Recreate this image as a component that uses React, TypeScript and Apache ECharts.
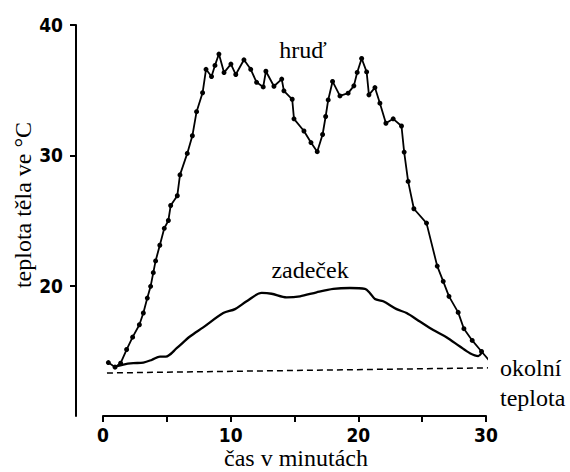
import React, { useEffect, useRef } from "react";
import * as echarts from "echarts";

const xTickValues = [0, 5, 10, 15, 20, 25, 30];
const xLabelValues = [0, 10, 20, 30];
const yTickValues = [20, 30, 40];

const hrudData: [number, number][] = [
  [0.42, 14.1], [0.94, 13.75], [1.38, 14.05], [1.85, 15.1], [2.32, 16.05], [2.85, 17.0],
  [3.16, 17.9], [3.47, 19.05], [3.73, 19.95], [3.94, 21.0], [4.12, 21.9], [4.45, 23.1],
  [4.8, 24.4], [5.12, 25.0], [5.3, 26.15], [5.82, 26.9], [6.03, 28.5], [6.6, 30.15],
  [7.0, 31.5], [7.33, 33.35], [7.8, 34.8], [8.07, 36.6], [8.5, 36.05], [8.77, 36.9],
  [9.08, 37.77], [9.48, 36.35], [10.02, 37.0], [10.4, 36.2], [11.04, 37.33], [11.57, 36.6],
  [12.03, 35.6], [12.55, 35.25], [12.76, 36.45], [13.39, 35.3], [14.0, 35.85], [14.17, 34.95],
  [14.82, 34.3], [14.96, 32.8], [15.74, 31.87], [16.29, 30.98], [16.78, 30.28], [17.2, 31.6],
  [17.44, 32.98], [17.64, 34.25], [17.98, 35.67], [18.56, 34.56], [19.2, 34.77], [19.65, 35.33],
  [19.91, 36.36], [20.26, 37.43], [20.65, 36.4], [20.83, 34.64], [21.3, 35.2], [21.69, 34.0],
  [22.16, 32.46], [22.73, 32.8], [23.38, 32.25], [23.59, 30.25], [23.9, 28.0], [24.35, 25.9],
  [25.34, 24.8], [26.18, 21.5], [26.65, 20.33], [27.1, 19.18], [27.82, 17.95], [28.27, 16.7],
  [28.92, 15.8], [29.65, 14.95],
];
const hrudEnd: [number, number] = [30.25, 14.25];

const zadecekData: [number, number][] = [
  [1.0, 13.8], [1.6, 13.95], [2.37, 14.05], [3.16, 14.1], [3.81, 14.3], [4.46, 14.56],
  [4.93, 14.56], [5.77, 15.2], [6.81, 16.1], [7.85, 16.8], [9.42, 17.9], [10.34, 18.2],
  [11.25, 18.8], [12.43, 19.44], [13.2, 19.38], [14.38, 19.1], [15.43, 19.18], [16.73, 19.49],
  [18.04, 19.75], [19.34, 19.82], [20.52, 19.75], [20.9, 19.44], [21.3, 18.98], [21.95, 18.8],
  [23.0, 18.2], [23.78, 17.9], [24.82, 17.25], [25.87, 16.6], [26.9, 16.05], [27.96, 15.33],
  [28.74, 14.82], [29.39, 14.6], [29.65, 14.82],
];

const ambientData: [number, number][] = [[0.31, 13.3], [30.7, 13.7]];

const SERIF = "Liberation Serif";
const TICKFONT = "DejaVu Sans Condensed";

export default function App() {
  const ref = useRef<HTMLDivElement>(null);
  useEffect(() => {
    if (!ref.current) return;
    const chart = echarts.init(ref.current, undefined, { renderer: "svg" });
    const txt = (text: string, x: number, y: number, align: string, extra: any = {}) => ({
      type: "text",
      x,
      y,
      ...extra,
      style: {
        text,
        fill: "#000",
        fontFamily: SERIF,
        fontSize: 24,
        textAlign: align,
        textVerticalAlign: "middle",
      },
    });
    chart.setOption({
      animation: false,
      backgroundColor: "#fff",
      grid: { left: 103, right: 84, top: 25, bottom: 56 },
      xAxis: {
        type: "value",
        min: 0,
        max: 30,
        interval: 5,
        splitLine: { show: false },
        axisLine: { show: true, onZero: false, lineStyle: { color: "#000", width: 2 } },
        axisTick: { show: true, customValues: xTickValues, length: 6, lineStyle: { color: "#000", width: 2 } },
        axisLabel: {
          customValues: xLabelValues,
          margin: 9,
          color: "#000",
          fontFamily: TICKFONT,
          fontWeight: "bold",
          fontSize: 19,
        },
      },
      yAxis: {
        type: "value",
        min: 10,
        max: 40,
        interval: 10,
        offset: 27,
        splitLine: { show: false },
        axisLine: { show: true, onZero: false, lineStyle: { color: "#000", width: 2 } },
        axisTick: { show: true, customValues: yTickValues, length: 6, lineStyle: { color: "#000", width: 2 } },
        axisLabel: {
          customValues: yTickValues,
          margin: 13,
          color: "#000",
          fontFamily: TICKFONT,
          fontWeight: "bold",
          fontSize: 19,
        },
      },
      series: [
        {
          name: "okolní teplota",
          type: "line",
          data: ambientData,
          clip: false,
          symbol: "none",
          lineStyle: { color: "#000", width: 1.5, type: [6, 4] },
        },
        {
          name: "zadeček",
          type: "line",
          data: zadecekData,
          clip: false,
          smooth: 0.3,
          symbol: "none",
          lineStyle: { color: "#000", width: 2.3 },
        },
        {
          name: "hruď",
          type: "line",
          data: [...hrudData, { value: hrudEnd, symbol: "none" }],
          clip: false,
          symbol: "circle",
          symbolSize: 5,
          itemStyle: { color: "#000" },
          lineStyle: { color: "#000", width: 1.8 },
        },
      ],
      graphic: [
        txt("hruď", 303, 50, "center"),
        txt("zadeček", 310, 270, "center"),
        txt("okolní", 500, 368, "left"),
        txt("teplota", 500, 398, "left"),
        txt("čas v minutách", 296, 458, "center"),
        txt("teplota těla ve °C", 23, 205, "center", { rotation: Math.PI / 2 }),
      ],
    });
    return () => chart.dispose();
  }, []);
  return (
    <div
      ref={ref}
      style={{ position: "fixed", left: 0, top: 0, width: 570, height: 472, background: "#fff" }}
    />
  );
}
